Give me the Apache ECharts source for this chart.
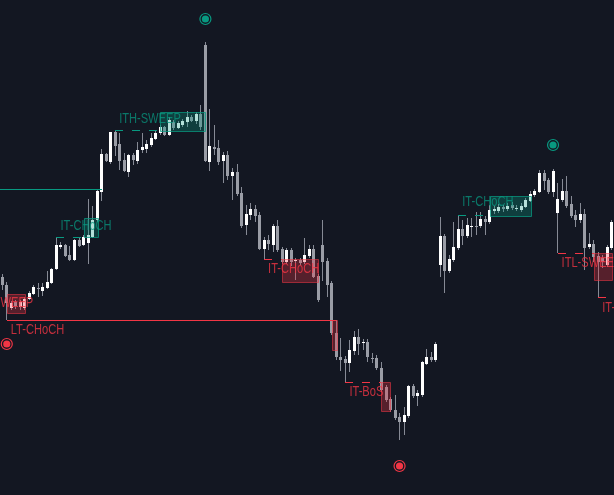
<!DOCTYPE html>
<html><head><meta charset="utf-8">
<script src="https://cdn.jsdelivr.net/npm/echarts@6/dist/echarts.min.js"></script>
<style>html,body{margin:0;padding:0;background:#131722;overflow:hidden}#c{width:614px;height:495px}</style>
</head><body><div id="c"></div>
<script>
// ---- candle data (index 0..135) ----
const opens  = [218,210,187,193,188,187,196,201,207,204,207,212,226,248,250,240,235,255,250,252,258,275,303,341,333,363,351,335,323,340,334,345,346,350,356,362,368,360,373,367,370,373,378,374,381,450,333,348,347,334,340,319,323,302,270,280,286,280,246,255,250,269,246,233,245,234,235,233,239,246,219,250,234,212,162,138,136,132,144,158,152,153,137,137,127,108,96,85,78,73,79,109,99,100,131,138,135,230,259,224,235,247,266,259,268,269,269,276,273,284,284,288,286,290,286,285,288,294,300,303,322,315,303,282,295,304,291,280,275,281,248,251,239,237,230,247];
const highs  = [221,213,194,195,195,198,204,210,212,212,224,227,258,253,251,249,256,258,260,296,289,305,346,342,363,365,362,342,341,342,353,362,355,362,365,370,369,378,375,374,376,384,380,383,390,453,386,370,355,343,344,327,331,308,290,292,290,283,258,260,271,275,248,247,247,237,237,257,250,250,221,275,237,214,175,157,139,155,164,166,156,156,142,140,133,110,98,100,82,88,110,111,105,134,146,143,153,278,261,240,273,280,275,277,277,283,283,279,290,289,291,290,292,293,290,292,297,304,306,325,325,317,326,312,316,319,299,285,292,286,262,255,243,240,250,275];
const lows   = [205,175,185,186,185,185,195,200,198,199,206,211,225,246,238,234,234,248,249,231,257,273,294,333,331,339,325,323,318,330,331,342,342,348,355,360,359,359,365,366,368,368,373,371,365,333,324,340,330,312,315,295,299,267,260,275,273,245,236,245,243,243,231,231,229,215,230,231,237,217,193,214,198,160,135,124,113,123,140,140,145,133,132,125,103,93,83,75,55,60,77,97,89,98,130,133,133,218,202,222,233,245,250,257,258,260,267,260,271,281,282,283,284,285,284,283,287,293,298,302,305,301,298,242,293,287,277,268,272,225,246,233,198,227,228,245];
const closes = [210,192,192,189,193,196,202,208,206,208,213,226,250,250,239,235,255,249,258,260,275,304,341,334,363,349,334,324,340,335,345,348,351,357,362,368,360,375,367,372,374,378,374,381,368,334,349,346,333,340,319,323,301,269,281,286,279,246,255,251,269,245,233,245,233,235,232,240,246,218,195,233,210,162,138,135,132,145,158,151,153,138,136,127,105,95,85,77,73,80,109,99,102,133,138,135,151,259,224,236,248,266,259,270,269,268,276,273,285,286,288,286,289,287,287,289,295,301,304,322,314,303,324,296,304,289,279,275,281,247,251,238,233,233,248,273];

// ---- structure annotations ----
// level lines: start index, end index, price
const lineStart = [-1, 1, 12, 25, 58, 76, 101, 123, 132];
const lineEnd   = [22, 74, 18, 35, 62, 84, 108, 131, 136];
const linePrice = [306, 175, 258, 365, 236, 113, 280, 242, 198];
const lineSide  = ['bull','bear','bull','bull','bear','bear','bull','bear','bear'];
const lineDashed= [false, false, true, true, true, true, true, true, true];

// zones: start index, end index, top price, bottom price
const boxStart = [1, 18, 35, 62, 73, 84, 108, 131];
const boxEnd   = [5, 21, 45, 70, 74, 86, 117, 135];
const boxTop   = [201, 277, 383, 236, 175, 113, 299, 242];
const boxBot   = [182, 258, 364, 213, 145, 84, 279, 215];
const boxSide  = ['bear','bull','bull','bear','bear','bear','bull','bear'];

// labels
const labelText  = ['ITL-SWEEP','LT-CHoCH','IT-CHoCH','ITH-SWEEP','IT-CHoCH','IT-BoS','IT-CHoCH','ITL-SWEEP','IT-CHoCH'];
const labelIndex = [6.85, 1, 12, 25, 58, 76, 101, 123, 132];
const labelPrice = [192, 165, 269, 376, 226, 103, 293, 232, 187];
const labelAlign = ['right','left','left','left','left','left','left','left','left'];
const labelSide  = ['bear','bear','bull','bull','bear','bear','bull','bear','bear'];

// swing markers
const markIndex = [45, 122, 1, 88];
const markPrice = [476, 350, 151, 29];
const markSide  = ['bull','bull','bear','bear'];

const COL = {bull:'#089981', bear:'#f23645'};
const TXT = {bull:'rgba(8,153,129,0.75)', bear:'rgba(242,54,69,0.8)'};
const FILL = {bull:'rgba(8,153,129,0.3)', bear:'rgba(242,54,69,0.3)'};
const EDGE = {bull:'rgba(8,153,129,0.75)', bear:'rgba(242,54,69,0.55)'};

const cats = opens.map((_, i) => String(i));
const candleData = opens.map((o, i) => [i, o, highs[i], lows[i], closes[i]]);

function pt(api, idx, v) {
  const p0 = api.coord([0, v]);
  const bw = api.size([1, 0])[0];
  return [p0[0] + idx * bw, p0[1]];
}

const chart = echarts.init(document.getElementById('c'), null, {renderer: 'canvas'});
chart.setOption({
  backgroundColor: '#131722',
  animation: false,
  grid: {left: 0, right: 0, top: 0, bottom: 0},
  xAxis: {type: 'category', data: cats, boundaryGap: true, show: false},
  yAxis: {type: 'value', min: 0, max: 495, show: false},
  series: [
    {
      type: 'custom', name: 'candles', z: 2,
      data: candleData,
      encode: {x: 0, y: [1, 2, 3, 4]},
      renderItem(params, api) {
        const i = api.value(0), o = api.value(1), h = api.value(2), l = api.value(3), c = api.value(4);
        const pO = api.coord([i, o]), pC = api.coord([i, c]), pH = api.coord([i, h]), pL = api.coord([i, l]);
        const x = Math.floor(pO[0]);
        const top = Math.round(Math.min(pO[1], pC[1])), bot = Math.round(Math.max(pO[1], pC[1]));
        const up = c > o;
        return {type: 'group', children: [
          {type: 'rect', shape: {x: x, y: Math.round(pH[1]), width: 1, height: Math.round(pL[1]) - Math.round(pH[1])}, style: {fill: '#868a95'}},
          {type: 'rect', shape: {x: x - 1, y: top, width: 3, height: Math.max(1, bot - top)}, style: {fill: up ? '#ffffff' : '#9a9da6'}}
        ]};
      }
    },
    {
      type: 'custom', name: 'levels', z: 3,
      data: lineStart.map(() => [0, 0]),
      renderItem(params, api) {
        const k = params.dataIndex;
        const a = pt(api, lineStart[k], linePrice[k]);
        const b = pt(api, lineEnd[k], linePrice[k]);
        const y = Math.round(a[1]) + 0.5;
        return {type: 'line', shape: {x1: Math.round(a[0]), y1: y, x2: Math.round(b[0]), y2: y},
          style: {stroke: COL[lineSide[k]], lineWidth: 1, lineDash: lineDashed[k] ? [8, 9] : null}};
      }
    },
    {
      type: 'custom', name: 'zones', z: 4,
      data: boxStart.map(() => [0, 0]),
      renderItem(params, api) {
        const k = params.dataIndex;
        const a = pt(api, boxStart[k], boxTop[k]);
        const b = pt(api, boxEnd[k], boxBot[k]);
        return {type: 'rect', shape: {x: Math.round(a[0]) + 0.5, y: Math.round(a[1]) + 0.5, width: Math.round(b[0] - a[0]), height: Math.round(b[1] - a[1])},
          style: {fill: FILL[boxSide[k]], stroke: EDGE[boxSide[k]], lineWidth: 1}};
      }
    },
    {
      type: 'custom', name: 'labels', z: 5,
      data: labelText.map(() => [0, 0]),
      renderItem(params, api) {
        const k = params.dataIndex;
        const p = pt(api, labelIndex[k], labelPrice[k]);
        const left = labelAlign[k] === 'left';
        return {type: 'text', x: p[0] + (left ? 4 : 0), y: p[1], scaleX: 0.74,
          style: {text: labelText[k], fill: TXT[labelSide[k]], fontSize: 15,
            fontFamily: "'Liberation Sans',Arial,sans-serif",
            align: labelAlign[k], verticalAlign: 'middle'}};
      }
    },
    {
      type: 'custom', name: 'swings', z: 6,
      data: markIndex.map(() => [0, 0]),
      renderItem(params, api) {
        const k = params.dataIndex;
        const p = pt(api, markIndex[k], markPrice[k]);
        const col = COL[markSide[k]];
        return {type: 'group', children: [
          {type: 'circle', shape: {cx: p[0], cy: p[1], r: 5.5}, style: {fill: 'rgba(0,0,0,0)', stroke: col, lineWidth: 1.2}},
          {type: 'circle', shape: {cx: p[0], cy: p[1], r: 3.6}, style: {fill: col}}
        ]};
      }
    }
  ]
});
</script>
</body></html>
